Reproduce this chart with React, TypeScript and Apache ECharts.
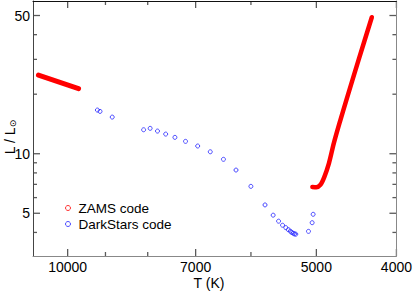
import React, { useEffect, useRef } from "react";
import * as echarts from "echarts";

// ZAMS code (red), hot branch
const zamsHotT = [10848, 10280, 9701];
const zamsHotL = [24.98, 23.15, 21.35];
// ZAMS code (red), cool branch
const zamsCoolT = [5056, 5000, 4945, 4891, 4828, 4763, 4676, 4599, 4442, 4284];
const zamsCoolL = [6.79, 6.77, 6.95, 7.62, 8.94, 11.28, 14.8, 18.67, 30.09, 49.0];

// DarkStars code (blue)
const darkT = [9205, 9137, 8832, 8092, 7946, 7785, 7609, 7416, 7200, 6960, 6720, 6478, 6255, 6001, 5769, 5640, 5555, 5494, 5445, 5407, 5377, 5355, 5333, 5314, 5295, 5111, 5059, 5045];
const darkL = [16.63, 16.37, 15.32, 13.22, 13.44, 13.02, 12.57, 12.1, 11.55, 10.94, 10.23, 9.37, 8.27, 6.84, 5.51, 4.89, 4.56, 4.35, 4.23, 4.13, 4.06, 4.0, 3.96, 3.93, 3.92, 4.05, 4.48, 4.94];

const xMajorTicks = [10000, 7000, 5000, 4000];
const xMinorTicks = [9000, 8000, 6000];
const yMajorTicks = [50, 10, 5];
const yMinorTicks = [40, 30, 20, 9, 8, 7, 6, 4];

const X_MIN = 4000;
const X_MAX = 11014;
const Y_MIN = 3.04;
const Y_MAX = 59.2;

const FONT = "'Liberation Sans', Arial, sans-serif";
const TICK_COLOR = "#5a5a5a";

const zip = (a: number[], b: number[]) => a.map((v, i) => [v, b[i]]);

export default function App() {
  const ref = useRef<HTMLDivElement>(null);
  useEffect(() => {
    if (!ref.current) return;
    const chart = echarts.init(ref.current, undefined, { renderer: "svg" });

    const titles: any[] = [
      {
        type: "text",
        id: "xname",
        x: 209,
        y: 283,
        style: { text: "T (K)", font: `14px ${FONT}`, fill: "#000", textAlign: "center", textVerticalAlign: "middle" },
      },
      {
        type: "text",
        id: "yname",
        x: 10,
        y: 137,
        rotation: Math.PI / 2,
        style: {
          text: "L / L{s|⊙}",
          fontSize: 14,
          fontFamily: FONT,
          fill: "#000",
          textAlign: "center",
          textVerticalAlign: "middle",
          rich: { s: { fontSize: 9, fontFamily: "'DejaVu Sans', sans-serif", fill: "#000", verticalAlign: "bottom", lineHeight: 14 } },
        },
      },
    ];

    const option: any = {
      animation: false,
      grid: { left: 33, right: 15, top: 1, bottom: 37, containLabel: false },
      xAxis: [
        {
          type: "log",
          position: "bottom",
          inverse: true,
          min: X_MIN,
          max: X_MAX,
          axisLine: { show: true, lineStyle: { color: "#888", width: 1 } },
          axisTick: { show: false },
          axisLabel: { show: true, customValues: xMajorTicks, margin: 4, color: "#000", fontSize: 14, fontFamily: FONT, formatter: (v: number) => String(Math.round(v)) },
          splitLine: { show: false },
        },
        {
          type: "log",
          position: "top",
          inverse: true,
          min: X_MIN,
          max: X_MAX,
          axisLine: { show: true, lineStyle: { color: "#111", width: 1 } },
          axisTick: { show: false },
          axisLabel: { show: false },
          splitLine: { show: false },
        },
      ],
      yAxis: [
        {
          type: "log",
          position: "left",
          min: Y_MIN,
          max: Y_MAX,
          axisLine: { show: true, lineStyle: { color: "#444", width: 1 } },
          axisTick: { show: false },
          axisLabel: { show: true, customValues: yMajorTicks, margin: 3, color: "#000", fontSize: 14, fontFamily: FONT, formatter: (v: number) => String(Math.round(v)) },
          splitLine: { show: false },
        },
        {
          type: "log",
          position: "right",
          min: Y_MIN,
          max: Y_MAX,
          axisLine: { show: true, lineStyle: { color: "#888", width: 1 } },
          axisTick: { show: false },
          axisLabel: { show: false },
          splitLine: { show: false },
        },
      ],
      legend: {
        orient: "vertical",
        left: 65,
        top: 201,
        padding: 0,
        itemGap: 2,
        itemWidth: 11,
        itemHeight: 5,
        selectedMode: false,
        textStyle: { fontSize: 13.5, fontFamily: FONT, color: "#000", lineHeight: 14 },
        data: [
          { name: "ZAMS code", icon: "circle", itemStyle: { color: "rgba(0,0,0,0)", borderColor: "#ff3030", borderWidth: 1 } },
          { name: "DarkStars code", icon: "circle", itemStyle: { color: "rgba(0,0,0,0)", borderColor: "#2020ff", borderWidth: 1 } },
        ],
      },
      series: [
        {
          name: "DarkStars code",
          type: "scatter",
          symbol: "circle",
          symbolSize: 4,
          itemStyle: { color: "rgba(0,0,0,0)", borderColor: "#2020ff", borderWidth: 1 },
          data: zip(darkT, darkL),
        },
        {
          name: "ZAMS code",
          type: "line",
          showSymbol: false,
          symbol: "none",
          lineStyle: { color: "#ff0000", width: 5, cap: "round", join: "round" },
          itemStyle: { color: "#ff0000" },
          data: zip(zamsHotT, zamsHotL),
        },
        {
          name: "ZAMS code",
          type: "line",
          showSymbol: false,
          symbol: "none",
          smooth: 0.3,
          lineStyle: { color: "#ff0000", width: 4.5, cap: "round", join: "round" },
          itemStyle: { color: "#ff0000" },
          data: zip(zamsCoolT, zamsCoolL),
        },
      ],
      graphic: titles,
    };
    chart.setOption(option);

    // tick marks on all four sides, positioned through the chart's own scales
    const finder = { xAxisIndex: 0, yAxisIndex: 0 };
    const px = (p: number[]) => chart.convertToPixel(finder as any, p) as number[];
    const tickStyle = { stroke: TICK_COLOR, lineWidth: 1.3 };
    const ticks: any[] = [];
    const addX = (vals: number[], len: number) =>
      vals.forEach((v) => {
        const b = px([v, Y_MIN]);
        const t = px([v, Y_MAX]);
        ticks.push({ type: "line", shape: { x1: b[0], y1: b[1], x2: b[0], y2: b[1] - len }, style: tickStyle });
        ticks.push({ type: "line", shape: { x1: t[0], y1: t[1], x2: t[0], y2: t[1] + len }, style: tickStyle });
      });
    const addY = (vals: number[], len: number) =>
      vals.forEach((v) => {
        const l = px([X_MAX, v]);
        const r = px([X_MIN, v]);
        ticks.push({ type: "line", shape: { x1: l[0], y1: l[1], x2: l[0] + len, y2: l[1] }, style: tickStyle });
        ticks.push({ type: "line", shape: { x1: r[0], y1: r[1], x2: r[0] - len, y2: r[1] }, style: tickStyle });
      });
    addX(xMajorTicks, 7);
    addX(xMinorTicks, 4);
    addY(yMajorTicks, 7);
    addY(yMinorTicks, 4);
    chart.setOption({ graphic: [...titles, ...ticks] });

    return () => chart.dispose();
  }, []);
  return <div ref={ref} style={{ position: "fixed", left: 0, top: 0, width: 415, height: 293, background: "#fff" }} />;
}
